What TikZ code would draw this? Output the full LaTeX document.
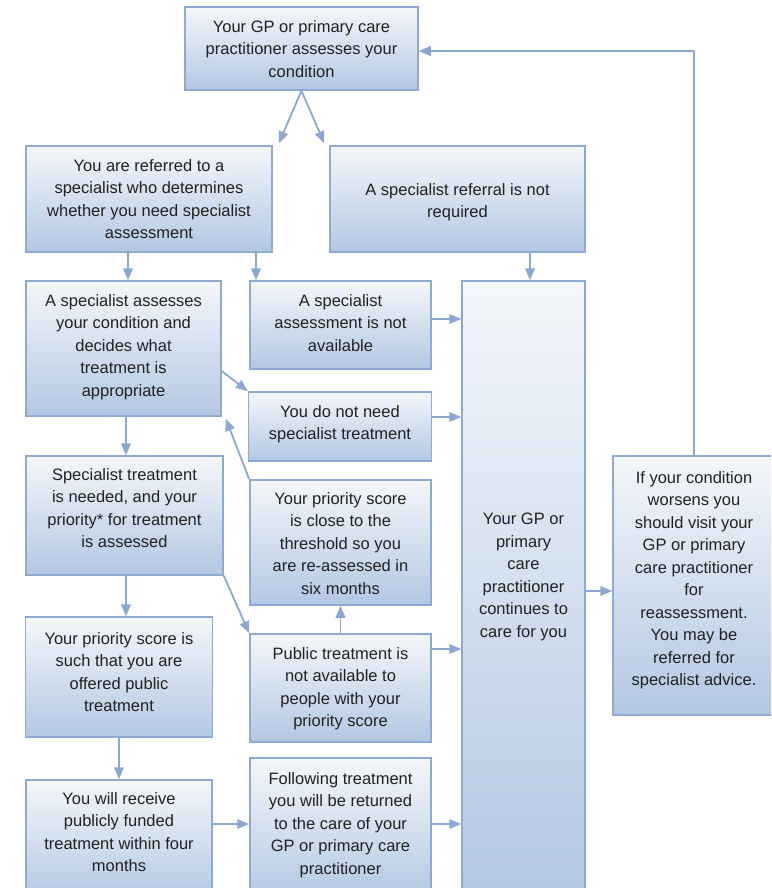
\documentclass[tikz,border=0pt]{standalone}
\usepackage{fontspec}
\setmainfont{Liberation Sans}
\usetikzlibrary{arrows, positioning}

\definecolor{boxline}{HTML}{8FAAD2}
\definecolor{boxtop}{HTML}{F4F7FB}
\definecolor{boxbottom}{HTML}{B3C7E3}
\definecolor{arrowline}{HTML}{8CA8D0}
\definecolor{textgray}{HTML}{222222}

\begin{document}
\begin{tikzpicture}[
    x = 1pt, y = -1pt,
    >=triangle 45,
    box/.style = {draw=boxline, line width=1.6pt, top color=boxtop, bottom color=boxbottom, inner sep=0pt},
    txt/.style = {align=center, inner sep=0pt, text=textgray, font=\fontsize{16.5}{22.5}\selectfont},
    arr/.style = {->, draw=arrowline, line width=1.8pt}]

\clip (0,0) rectangle (771,888);

% Boxes

\node[box, minimum width=233pt, minimum height=83pt] (gp) at (301.5,48.5) {};
\node[txt, below=14pt of gp.north] (gp-t) {Your GP or primary care\\practitioner assesses your\\condition};

\node[box, minimum width=246pt, minimum height=106pt] (ref) at (149,199) {};
\node[txt, below=14pt of ref.north] (ref-t) {You are referred to a\\specialist who determines\\whether you need specialist\\assessment};

\node[box, minimum width=255pt, minimum height=106pt] (notreq) at (457.5,199) {};
\node[txt, below=38pt of notreq.north] (notreq-t) {A specialist referral is not\\required};

\node[box, minimum width=195pt, minimum height=135pt] (assess) at (123.5,348.5) {};
\node[txt, below=14pt of assess.north] (assess-t) {A specialist assesses\\your condition and\\decides what\\treatment is\\appropriate};

\node[box, minimum width=181pt, minimum height=88pt] (notavail) at (340.5,325) {};
\node[txt, below=14pt of notavail.north] (notavail-t) {A specialist\\assessment is not\\available};

\node[box, minimum width=183pt, minimum height=69pt] (noneed) at (340,426.5) {};
\node[txt, below=14pt of noneed.north] (noneed-t) {You do not need\\specialist treatment};

\node[box, minimum width=197pt, minimum height=119pt] (needed) at (124.5,515.5) {};
\node[txt, below=13pt of needed.north] (needed-t) {Specialist treatment\\is needed, and your\\priority* for treatment\\is assessed};

\node[box, minimum width=181pt, minimum height=125pt] (close) at (340.5,542.5) {};
\node[txt, below=13pt of close.north] (close-t) {Your priority score\\is close to the\\threshold so you\\are re-assessed in\\six months};

\node[box, minimum width=187pt, minimum height=120pt] (offered) at (119,677) {};
\node[txt, below=16pt of offered.north] (offered-t) {Your priority score is\\such that you are\\offered public\\treatment};

\node[box, minimum width=181pt, minimum height=108pt] (pubnot) at (340.5,688) {};
\node[txt, below=14pt of pubnot.north] (pubnot-t) {Public treatment is\\not available to\\people with your\\priority score};

\node[box, minimum width=186pt, minimum height=120pt] (receive) at (119,840) {};
\node[txt, below=13pt of receive.north] (receive-t) {You will receive\\publicly funded\\treatment within four\\months};

\node[box, minimum width=181pt, minimum height=142pt] (follow) at (340.5,829) {};
\node[txt, below=15pt of follow.north] (follow-t) {Following treatment\\you will be returned\\to the care of your\\GP or primary care\\practitioner};

\node[box, minimum width=123pt, minimum height=619pt] (cont) at (523.5,590.5) {};
\node[txt, below=233pt of cont.north] (cont-t) {Your GP or\\primary\\care\\practitioner\\continues to\\care for you};

\node[box, minimum width=162pt, minimum height=259pt] (worse) at (694,585.5) {};
\node[txt, below=16pt of worse.north] (worse-t) {If your condition\\worsens you\\should visit your\\GP or primary\\care practitioner\\for\\reassessment.\\You may be\\referred for\\specialist advice.};

% Arrows

\draw[arr] (gp.south) -- ([xshift=6pt, yshift=2pt]ref.north east);
\draw[arr] (gp.south) -- ([xshift=-5pt, yshift=2pt]notreq.north west);

\draw[arr] (ref.south -| 128,0) -- (assess.north -| 128,0);
\draw[arr] (ref.south -| 256,0) -- (notavail.north -| 256,0);
\draw[arr] (notreq.south -| 530,0) -- (cont.north -| 530,0);

\draw[arr] (notavail.east |- 0,319) -- (cont.west |- 0,319);
\draw[arr] (assess.east |- 0,371) -- (noneed.north west);
\draw[arr] (noneed.east |- 0,417) -- (cont.west |- 0,417);
\draw[arr] (assess.south -| 126,0) -- (needed.north -| 126,0);

\draw[arr] (close.north west) -- ([xshift=4pt, yshift=-2pt]assess.south east);
\draw[arr] (needed.south east) -- (pubnot.north west);
\draw[arr] (pubnot.north) -- (close.south);
\draw[arr] (needed.south -| 126,0) -- (offered.north -| 126,0);
\draw[arr] (pubnot.east |- 0,649) -- (cont.west |- 0,649);

\draw[arr] (offered.south) -- (receive.north);
\draw[arr] (receive.east |- 0,824) -- (follow.west |- 0,824);
\draw[arr] (follow.east |- 0,824) -- (cont.west |- 0,824);

\draw[arr] (cont.east |- 0,591) -- (worse.west |- 0,591);
\draw[arr] (worse.north) |- ([yshift=-2.5pt]gp.east);

\end{tikzpicture}
\end{document}
